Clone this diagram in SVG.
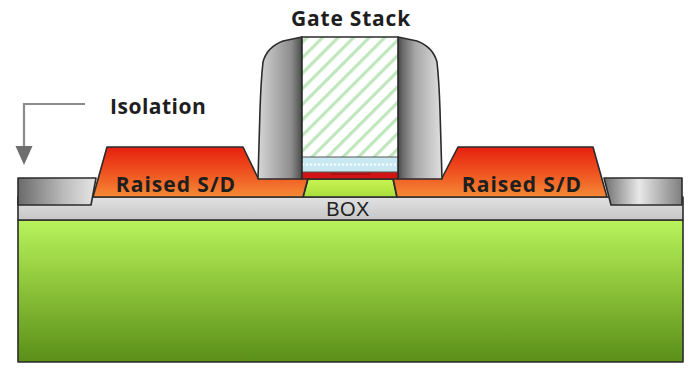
<svg xmlns="http://www.w3.org/2000/svg" width="693" height="368" viewBox="0 0 693 368">
  <defs>
    <linearGradient id="gSub" x1="0" y1="0" x2="0" y2="1">
      <stop offset="0" stop-color="#b9f35c"/>
      <stop offset="0.45" stop-color="#8fc63b"/>
      <stop offset="1" stop-color="#5a8e18"/>
    </linearGradient>
    <linearGradient id="gBox" x1="0" y1="0" x2="0" y2="1">
      <stop offset="0" stop-color="#e2e2e2"/>
      <stop offset="1" stop-color="#c6c6c6"/>
    </linearGradient>
    <linearGradient id="gSD" x1="0" y1="0" x2="0" y2="1">
      <stop offset="0" stop-color="#e6200f"/>
      <stop offset="0.45" stop-color="#ee4d1d"/>
      <stop offset="1" stop-color="#f58a36"/>
    </linearGradient>
    <linearGradient id="gChan" x1="0" y1="0" x2="0" y2="1">
      <stop offset="0" stop-color="#c8f454"/>
      <stop offset="1" stop-color="#a9de3c"/>
    </linearGradient>
    <linearGradient id="gIsoL" x1="0" y1="0" x2="1" y2="0">
      <stop offset="0" stop-color="#6a6a6a"/>
      <stop offset="0.6" stop-color="#bdbdbd"/>
      <stop offset="1" stop-color="#e6e6e6"/>
    </linearGradient>
    <linearGradient id="gIsoR" x1="0" y1="0" x2="1" y2="0">
      <stop offset="0" stop-color="#6e6e6e"/>
      <stop offset="0.45" stop-color="#e8e8e8"/>
      <stop offset="1" stop-color="#7e7e7e"/>
    </linearGradient>
    <linearGradient id="gSpL" x1="0" y1="0" x2="1" y2="0">
      <stop offset="0" stop-color="#d6d6d6"/>
      <stop offset="0.75" stop-color="#8e8e8e"/>
      <stop offset="0.88" stop-color="#6c6c6c"/>
      <stop offset="1" stop-color="#4a4a4a"/>
    </linearGradient>
    <linearGradient id="gSpR" x1="0" y1="0" x2="1" y2="0">
      <stop offset="0" stop-color="#4a4a4a"/>
      <stop offset="0.12" stop-color="#6c6c6c"/>
      <stop offset="0.4" stop-color="#a8a8a8"/>
      <stop offset="1" stop-color="#e0e0e0"/>
    </linearGradient>
    <pattern id="hatch" patternUnits="userSpaceOnUse" width="11" height="11" patternTransform="rotate(45)">
      <rect width="11" height="11" fill="#ffffff"/>
      <rect x="0" y="0" width="3.2" height="11" fill="#bfe6bd"/>
    </pattern>
    <marker id="arrowHead" viewBox="0 -9 20 18" refX="0" refY="0" markerWidth="20" markerHeight="18" markerUnits="userSpaceOnUse" orient="auto">
      <path d="M0,-8.5 L0,8.5 L19,0 Z" fill="#6e6e6e"/>
    </marker>
    <style>
      .edge { stroke: #2b2b2b; stroke-width: 1.6; stroke-linejoin: round; }
      .label { font-family: "Open Sans", "Liberation Sans", sans-serif; font-weight: bold; fill: #1e1e1e; }
      .thin { font-family: "Liberation Sans", Arial, sans-serif; fill: #222222; }
    </style>
  </defs>

  <!-- handle substrate -->
  <g id="substrate">
    <rect class="edge" x="18" y="220" width="665" height="142" fill="url(#gSub)"/>
  </g>

  <!-- buried oxide -->
  <g id="box">
    <rect class="edge" x="18" y="197" width="665" height="23" fill="url(#gBox)"/>
    <text class="thin" x="348" y="216" font-size="20" text-anchor="middle" letter-spacing="0.5">BOX</text>
  </g>

  <!-- isolation blocks -->
  <g id="isolation-left">
    <path class="edge" d="M18,178 H96 L91,205 H18 Z" fill="url(#gIsoL)"/>
  </g>
  <g id="isolation-right">
    <path class="edge" d="M604,178 H682 V205 H611 Z" fill="url(#gIsoR)"/>
  </g>

  <!-- silicon channel -->
  <g id="channel">
    <path class="edge" d="M308,179 H393 L397,197 H303 Z" fill="url(#gChan)"/>
  </g>

  <!-- raised source / drain -->
  <g id="sd-left">
    <path class="edge" d="M107,147 H243 L258,178 H308 L303,197 H93 Z" fill="url(#gSD)"/>
    <text class="label" x="176" y="192" font-size="21" text-anchor="middle" letter-spacing="1">Raised S/D</text>
  </g>
  <g id="sd-right">
    <path class="edge" d="M458,147 H593 L607,197 H397 L393,178 H442 Z" fill="url(#gSD)"/>
    <text class="label" x="522" y="192" font-size="21" text-anchor="middle" letter-spacing="1">Raised S/D</text>
  </g>

  <!-- spacers -->
  <g id="spacer-left">
    <path class="edge" d="M302,37 L283,41 Q267,47 263,62 Q261,80 260,110 L258,179 H302 Z" fill="url(#gSpL)"/>
  </g>
  <g id="spacer-right">
    <path class="edge" d="M398,37 L417,41 Q433,47 437,62 Q439,80 440,110 L442,179 H398 Z" fill="url(#gSpR)"/>
  </g>

  <!-- gate stack -->
  <g id="gate">
    <rect x="302" y="37" width="96" height="120" fill="url(#hatch)"/>
    <rect x="302" y="157" width="96" height="15" fill="#c9e9f2"/>
    <line x1="302" y1="164.5" x2="398" y2="164.5" stroke="#ffffff" stroke-width="2" stroke-dasharray="2 2"/>
    <rect x="302" y="172" width="96" height="7" fill="#d21414"/>
    <line x1="330" y1="174" x2="370" y2="174" stroke="#8a1010" stroke-width="1.2"/>
    <line x1="302" y1="157" x2="398" y2="157" stroke="#555555" stroke-width="1"/>
    <line x1="302" y1="172" x2="398" y2="172" stroke="#555555" stroke-width="1"/>
    <rect class="edge" x="302" y="37" width="96" height="142" fill="none"/>
    <text class="label" x="351" y="26" font-size="21" text-anchor="middle" letter-spacing="0.8">Gate Stack</text>
  </g>

  <!-- isolation label and pointer -->
  <g id="isolation-label">
    <text class="label" x="110" y="114" font-size="21" letter-spacing="0.5">Isolation</text>
  </g>
  <g id="connectors">
    <path d="M85,104 H24 V146" fill="none" stroke="#8c8c8c" stroke-width="2.2" marker-end="url(#arrowHead)"/>
  </g>
</svg>
